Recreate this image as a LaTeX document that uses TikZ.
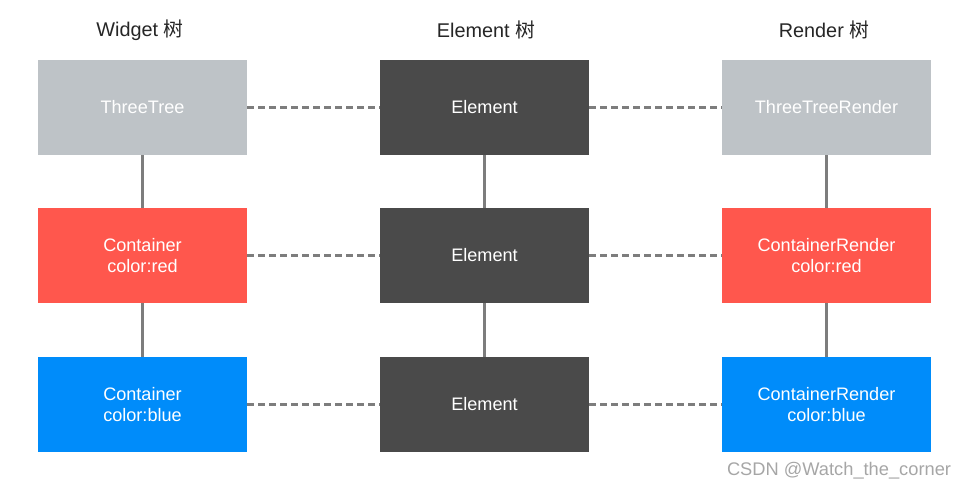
\documentclass[tikz,border=0pt]{standalone}
\usepackage{fontspec}
\setmainfont{Liberation Sans}
\newfontfamily\cjkfont{Noto Sans CJK SC}
\usepackage{tikz}
\usetikzlibrary{positioning}
\definecolor{wgray}{RGB}{190,195,199}
\definecolor{wred}{RGB}{255,87,77}
\definecolor{wblue}{RGB}{0,140,250}
\definecolor{edark}{RGB}{74,74,74}
\definecolor{linkc}{RGB}{125,125,125}
\tikzset{
  box/.style={rectangle, minimum width=4.18cm, minimum height=1.9cm, inner sep=0pt,
              text=white, align=center, font=\fontsize{10.3}{12}\selectfont},
  graybox/.style={box, fill=wgray},
  redbox/.style={box, fill=wred},
  bluebox/.style={box, fill=wblue},
  elembox/.style={box, fill=edark},
  title/.style={font=\fontsize{11.3}{13}\selectfont, text=black!85},
  tree/.style={line width=1.6pt, linkc},
  pair/.style={line width=1.6pt, linkc, dash pattern=on 0.14cm off 0.08cm},
  wmark/.style={font=\fontsize{10.4}{12}\selectfont, text=black!35}
}
\begin{document}
\begin{tikzpicture}[x=0.02cm, y=0.02cm]
\useasboundingbox (0,0) rectangle (969,490);
% column titles
\node[title] (t1) at (140,460) {Widget {\cjkfont 树}};
\node[title] (t2) at (486,460) {Element {\cjkfont 树}};
\node[title] (t3) at (824,460) {Render {\cjkfont 树}};
% widget tree
\node[graybox] (w1) at (142.5,382.5) {ThreeTree};
\node[redbox]  (w2) at (142.5,234.5) {Container\\color:red};
\node[bluebox] (w3) at (142.5,85.5) {Container\\color:blue};
% element tree
\node[elembox] (e1) at (484.5,382.5) {Element};
\node[elembox] (e2) at (484.5,234.5) {Element};
\node[elembox] (e3) at (484.5,85.5) {Element};
% render tree
\node[graybox] (r1) at (826.5,382.5) {ThreeTreeRender};
\node[redbox]  (r2) at (826.5,234.5) {ContainerRender\\color:red};
\node[bluebox] (r3) at (826.5,85.5) {ContainerRender\\color:blue};
% parent-child links
\draw[tree] (w1) -- (w2);
\draw[tree] (w2) -- (w3);
\draw[tree] (e1) -- (e2);
\draw[tree] (e2) -- (e3);
\draw[tree] (r1) -- (r2);
\draw[tree] (r2) -- (r3);
% cross links
\draw[pair] (w1) -- (e1);
\draw[pair] (e1) -- (r1);
\draw[pair] (w2) -- (e2);
\draw[pair] (e2) -- (r2);
\draw[pair] (w3) -- (e3);
\draw[pair] (e3) -- (r3);
\node[wmark] (wm) at (839,19) {CSDN @Watch\_the\_corner};
\end{tikzpicture}
\end{document}
